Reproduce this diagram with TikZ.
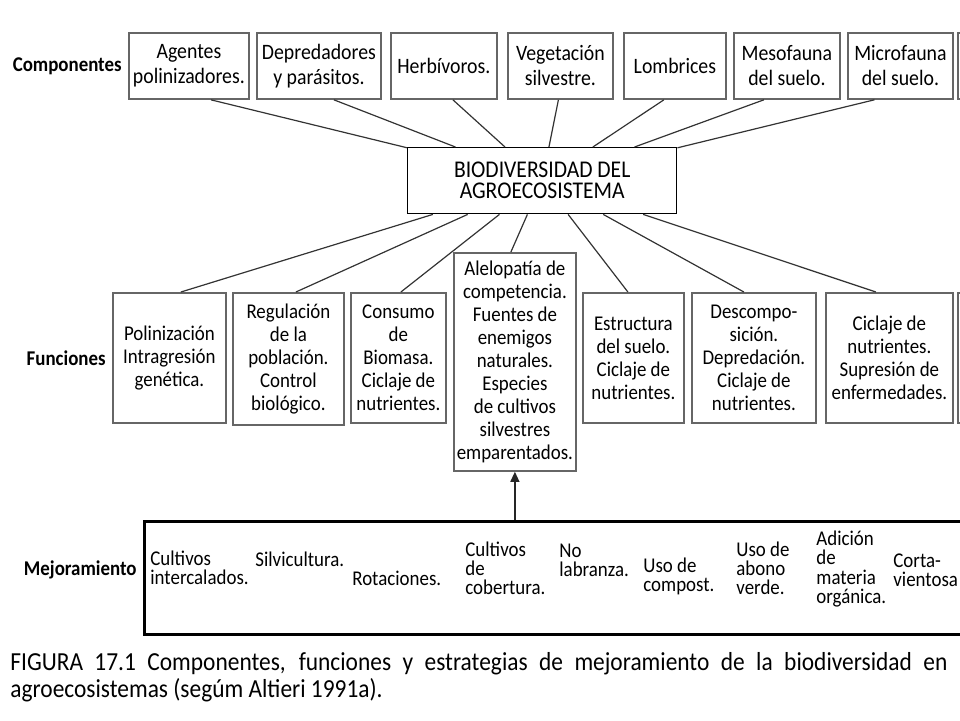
\documentclass[tikz,border=0pt]{standalone}
\usepackage{fontspec}
\setmainfont{Carlito}[FakeStretch=0.9]
\usetikzlibrary{arrows.meta,positioning,calc}

\begin{document}
\begin{tikzpicture}[x=0.5pt, y=-0.5pt,
  comp/.style={draw=black!60, line width=0.9pt, anchor=north west, align=center, inner sep=1pt, minimum height=33pt, font=\fontsize{11}{12.5}\selectfont},
  func/.style={comp, minimum height=65pt, font=\fontsize{10.5}{11.5}\selectfont},
  hub/.style={draw=black, line width=0.7pt, anchor=north west, align=center, minimum width=134.5pt, minimum height=33pt, font=\fontsize{12}{10.5}\selectfont},
  tag/.style={font=\fontsize{10.5}{12}\selectfont\bfseries, inner sep=0pt},
  item/.style={anchor=west, align=left, inner sep=0pt, font=\fontsize{10.5}{9.6}\selectfont},
  link/.style={draw=black!80, line width=0.6pt},
  arrow/.style={-{Triangle[length=5pt, width=4.5pt]}, line width=0.6pt, draw=black!85}
]
\useasboundingbox (0,0) rectangle (960,720);
\clip (0,0) rectangle (960,720);

% componentes
\node[comp, minimum width=60pt] (c1) at (128,32) {Agentes\\polinizadores.};
\node[comp, minimum width=62pt] (c2) at (256,32) {Depredadores\\y parásitos.};
\node[comp, minimum width=53pt] (c3) at (390,32) {Herbívoros.};
\node[comp, minimum width=52.5pt] (c4) at (507,32) {Vegetación\\silvestre.};
\node[comp, minimum width=51pt] (c5) at (623,32) {Lombrices};
\node[comp, minimum width=53pt] (c6) at (733,32) {Mesofauna\\del suelo.};
\node[comp, minimum width=52.5pt] (c7) at (847,32) {Microfauna\\del suelo.};
\node[comp, minimum width=50pt] (c8) at (957,32) {};
\node[tag, left=3pt of c1] (lcomp) {Componentes};

\node[hub] (hub) at (407,147) {BIODIVERSIDAD DEL\\AGROECOSISTEMA};

\draw[link] ([xshift=11pt]c1.south) -- (hub);
\draw[link] ([xshift=7.5pt]c2.south) -- (hub);
\draw[link] ([xshift=4.5pt]c3.south) -- (hub);
\draw[link] ([xshift=-1pt]c4.south) -- (hub);
\draw[link] ([xshift=-5.5pt]c5.south) -- (hub);
\draw[link] ([xshift=-11.5pt]c6.south) -- (hub);
\draw[link] ([xshift=-13pt]c7.south) -- (hub);

% funciones
\node[func, minimum width=56.5pt] (f1) at (112,292) {Polinización\\Intragresión\\genética.};
\node[func, minimum width=55.5pt, minimum height=66pt] (f2) at (232,292) {Regulación\\de la\\población.\\Control\\biológico.};
\node[func, minimum width=47.5pt] (f3) at (350,292) {Consumo\\de\\Biomasa.\\Ciclaje de\\nutrientes.};
\node[func, minimum width=61pt, minimum height=109pt] (f4) at (453,252) {Alelopatía de\\competencia.\\Fuentes de\\enemigos\\naturales.\\Especies\\de cultivos\\silvestres\\emparentados.};
\node[func, minimum width=50.5pt] (f5) at (582,292) {Estructura\\del suelo.\\Ciclaje de\\nutrientes.};
\node[func, minimum width=62pt] (f6) at (691,292) {Descompo-\\sición.\\Depredación.\\Ciclaje de\\nutrientes.};
\node[func, minimum width=63.5pt] (f7) at (825,292) {Ciclaje de\\nutrientes.\\Supresión de\\enfermedades.};
\node[func, minimum width=50pt] (f8) at (957,292) {};
\node[tag, left=3pt of f1] (lfunc) {Funciones};

\draw[link] (hub) -- ([xshift=5.75pt]f1.north);
\draw[link] (hub) -- ([xshift=3.75pt]f2.north);
\draw[link] (hub) -- ([xshift=1.25pt]f3.north);
\draw[link] (hub) -- ([xshift=-2pt]f4.north);
\draw[link] (hub) -- ([xshift=-2.75pt]f5.north);
\draw[link] (hub) -- ([xshift=-5pt]f6.north);
\draw[link] (hub) -- ([xshift=-6.75pt]f7.north);

% mejoramiento
\node[draw=black, line width=1.3pt, anchor=north west, minimum width=430pt, minimum height=56.5pt] (mej) at (143,520) {};
\node[tag, left=3pt of mej, yshift=4pt] (lmej) {Mejoramiento};
\node[item] (m1) at (150,568) {Cultivos\\intercalados.};
\node[item] (m2) at (255,559) {Silvicultura.};
\node[item] (m3) at (352,578) {Rotaciones.};
\node[item] (m4) at (465,568) {Cultivos\\de\\cobertura.};
\node[item] (m5) at (559,560) {No\\labranza.};
\node[item] (m6) at (643,576) {Uso de\\compost.};
\node[item] (m7) at (736,568) {Uso de\\abono\\verde.};
\node[item] (m8) at (816,569) {Adición\\de\\materia\\orgánica.};
\node[item] (m9) at (893,570) {Corta-\\vientosa};

\draw[arrow] (mej.north -| f4.south) -- (f4.south);

\node[anchor=north west, inner sep=0pt, text width=468.5pt, align=justify, font=\fontsize{13}{13.5}\selectfont] (cap) at (10,652)
  {FIGURA 17.1 Componentes, funciones y estrategias de mejoramiento de la biodiversidad en\linebreak agroecosistemas (segúm Altieri 1991a).};
\end{tikzpicture}
\end{document}
